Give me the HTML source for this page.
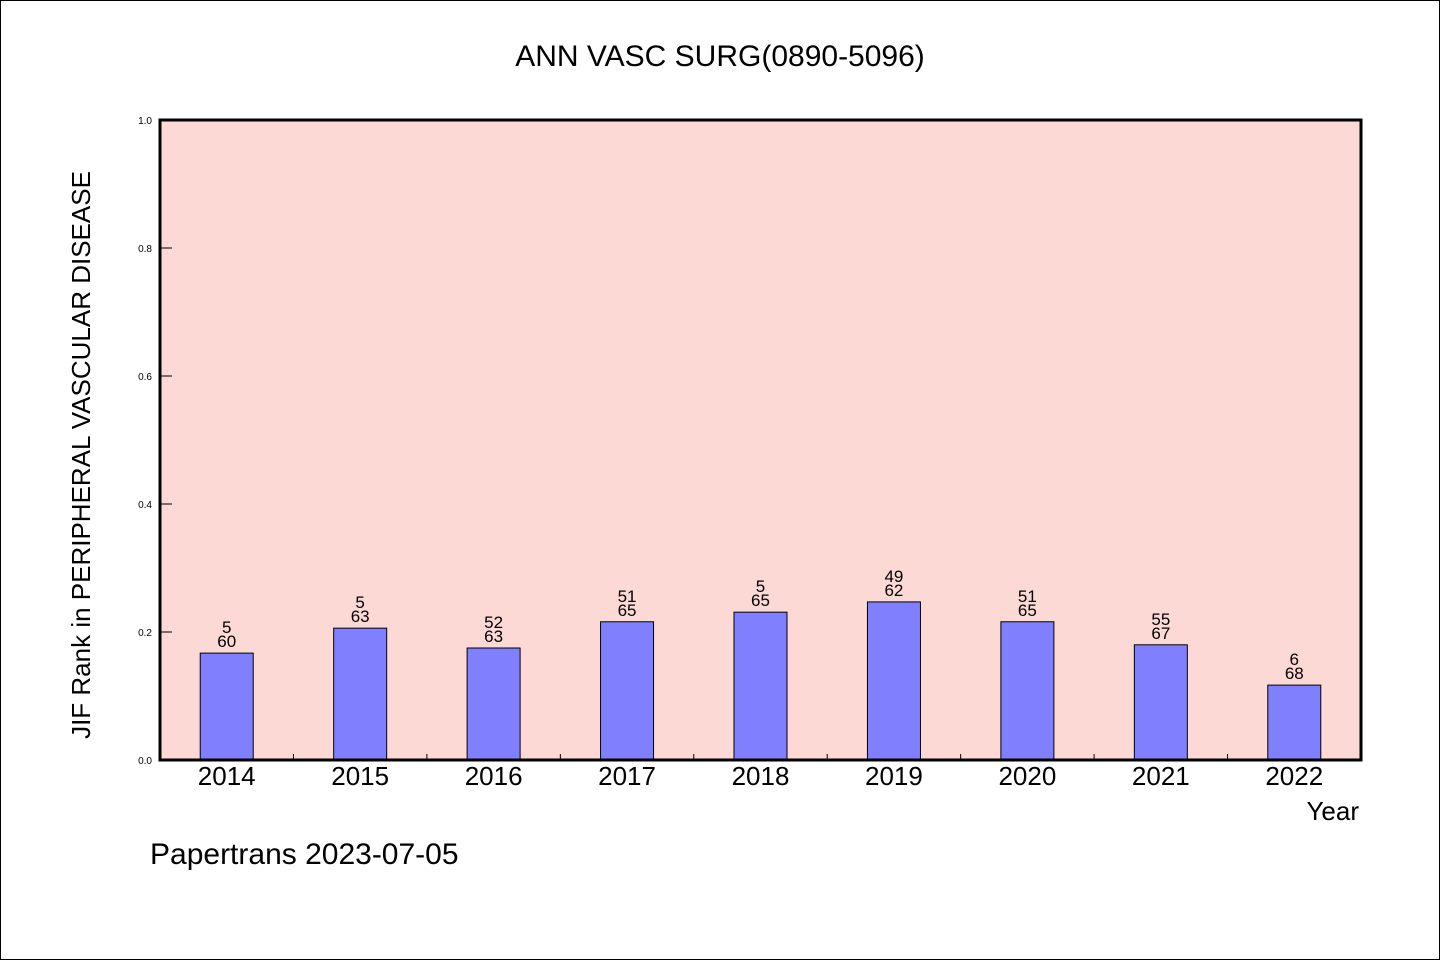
<!DOCTYPE html>
<html><head><meta charset="utf-8"><style>
body{margin:0;background:#fff}
svg{display:block;font-family:"WenQuanYi Zen Hei","Liberation Sans",sans-serif}
</style></head><body>
<svg id="chart" width="1440" height="960">
<rect x="0.5" y="0.5" width="1439" height="959" fill="#fff" stroke="#000"/>
<text x="720" y="66" text-anchor="middle" font-size="30">ANN VASC SURG(0890-5096)</text>
<rect x="160" y="120" width="1201" height="640" fill="#fdd9d6"/>
<g id="bars"></g>
<g id="axes"></g>
<rect x="160" y="120" width="1201" height="640" fill="none" stroke="#000" stroke-width="3"/>
<text transform="translate(90,455) rotate(-90)" text-anchor="middle" font-size="26">JIF Rank in PERIPHERAL VASCULAR DISEASE</text>
<text x="1359" y="820" text-anchor="end" font-size="26">Year</text>
<text x="150" y="864" font-size="30">Papertrans 2023-07-05</text>
</svg>
<script>
const categories=["2014","2015","2016","2017","2018","2019","2020","2021","2022"];
const values=[0.167,0.206,0.175,0.216,0.231,0.247,0.216,0.180,0.117];
const rankLabels=["5","5","52","51","5","49","51","55","6"];
const totalLabels=["60","63","63","65","65","62","65","67","68"];
const yTicks=[0,0.2,0.4,0.6,0.8,1.0];
const X0=160,X1=1361,Y0=760,Y1=120;
const bw=(X1-X0)/categories.length;
const xc=i=>X0+bw*(i+0.5);
const y=v=>Y0-(v)*(Y0-Y1);
const NS="http://www.w3.org/2000/svg";
const bars=document.getElementById('bars'),axes=document.getElementById('axes');
function mk(tag,attrs,parent,text){const e=document.createElementNS(NS,tag);for(const k in attrs)e.setAttribute(k,attrs[k]);if(text!==undefined)e.textContent=text;parent.appendChild(e);return e;}
categories.forEach((c,i)=>{
 const top=y(values[i]);
 const r=mk('rect',{x:xc(i)-26.5,y:top,width:53,height:Y0-top,fill:'#8080ff',stroke:'#000','stroke-width':1},bars);
 
 
 const t1=mk('text',{x:xc(i),y:top-20,'text-anchor':'middle','font-size':17},bars,rankLabels[i]);
 
 
 const t2=mk('text',{x:xc(i),y:top-6,'text-anchor':'middle','font-size':17},bars,totalLabels[i]);
 
 
 const xl=mk('text',{x:xc(i),y:785,'text-anchor':'middle','font-size':26},axes,c);
 
 
 if(i>0){const tk=mk('line',{x1:X0+bw*i,x2:X0+bw*i,y1:Y0,y2:Y0-6,stroke:'#000'},axes);
 
 }
});
yTicks.forEach(v=>{
 const tk=mk('line',{x1:X0,x2:X0+12,y1:y(v),y2:y(v),stroke:'#000'},axes);
 
 
 const tl=mk('text',{x:152,y:y(v)+4,'text-anchor':'end','font-size':10},axes,v.toFixed(1));
 
 
});
</script>
</body></html>
